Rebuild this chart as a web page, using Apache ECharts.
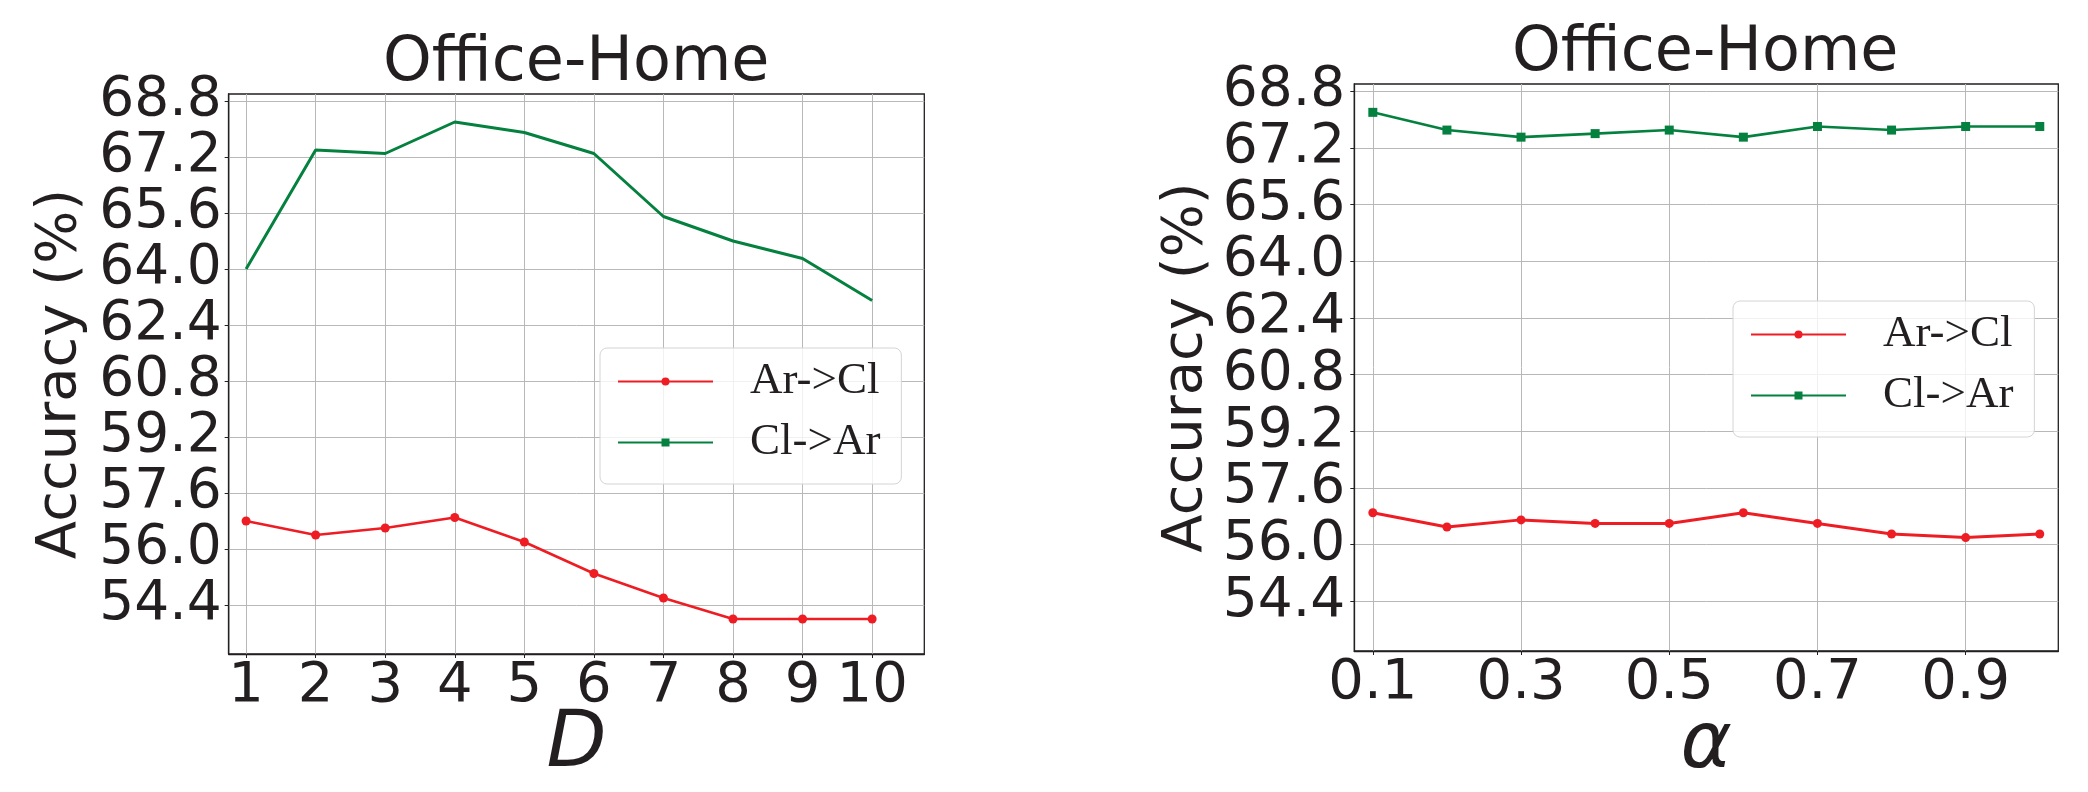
<!DOCTYPE html>
<html>
<head>
<meta charset="utf-8">
<script src="https://cdn.jsdelivr.net/npm/echarts@6/dist/echarts.min.js"></script>
<style>
html,body{margin:0;padding:0;background:#fff;}
#chart{width:2088px;height:792px;}
</style>
</head>
<body>
<div id="chart"></div>
<script>
// ---- data ----
const dValues = [1, 2, 3, 4, 5, 6, 7, 8, 9, 10];
const arClD = [56.8, 56.4, 56.6, 56.9, 56.2, 55.3, 54.6, 54.0, 54.0, 54.0];
const clArD = [64.0, 67.4, 67.3, 68.2, 67.9, 67.3, 65.5, 64.8, 64.3, 63.1];

const alphaValues = [0.1, 0.2, 0.3, 0.4, 0.5, 0.6, 0.7, 0.8, 0.9, 1.0];
const arClAlpha = [56.9, 56.5, 56.7, 56.6, 56.6, 56.9, 56.6, 56.3, 56.2, 56.3];
const clArAlpha = [68.2, 67.7, 67.5, 67.6, 67.7, 67.5, 67.8, 67.7, 67.8, 67.8];

const yTicks = [54.4, 56.0, 57.6, 59.2, 60.8, 62.4, 64.0, 65.6, 67.2, 68.8];
const dTicks = [1, 2, 3, 4, 5, 6, 7, 8, 9, 10];
const alphaTicks = [0.1, 0.3, 0.5, 0.7, 0.9];

const seriesNames = ['Ar->Cl', 'Cl->Ar'];
const chartTitle = 'Office-Home';
const yName = 'Accuracy (%)';

// ---- styles ----
const INK = '#231f20';
const RED = '#ee1d24';
const GREEN = '#05813f';
const GRIDC = '#b8b8b8';
const SANS = 'DejaVu Sans';
const SERIF = 'Liberation Serif';

function pairs(xs, ys) { return xs.map((x, i) => [x, ys[i]]); }

function xAxisCfg(idx, min, max, ticks, fmt, name, gap) {
  return {
    gridIndex: idx, type: 'value', min: min, max: max,
    axisLine: { show: true, lineStyle: { color: INK, width: 1.3 } },
    axisTick: { show: true, length: 4, inside: false, customValues: ticks, lineStyle: { color: INK, width: 1 } },
    axisLabel: { customValues: ticks, formatter: fmt, fontSize: 56, fontFamily: SANS, color: INK, margin: 4,
                 hideOverlap: false, showMinLabel: true, showMaxLabel: true },
    splitLine: { show: true, lineStyle: { color: GRIDC, width: 1 } },
    name: name, nameLocation: 'middle', nameGap: gap, nameMoveOverlap: false,
    nameTextStyle: { fontSize: 78, fontStyle: 'italic', fontFamily: SANS, color: INK }
  };
}
function yAxisCfg(idx, margin) {
  return {
    gridIndex: idx, type: 'value', min: 53, max: 69,
    axisLine: { show: true, lineStyle: { color: INK, width: 1.3 } },
    axisTick: { show: true, length: 4, customValues: yTicks, lineStyle: { color: INK, width: 1 } },
    axisLabel: { customValues: yTicks, formatter: v => Number(v).toFixed(1), fontSize: 55, fontFamily: SANS, color: INK, margin: margin,
                 hideOverlap: false, showMinLabel: true, showMaxLabel: true },
    splitLine: { show: true, lineStyle: { color: GRIDC, width: 1 } },
    name: yName, nameLocation: 'middle', nameGap: 140, nameRotate: 90, nameMoveOverlap: false,
    nameTextStyle: { fontSize: 56, fontFamily: SANS, color: INK }
  };
}
function legendCfg(left, top) {
  return {
    left: left, top: top, orient: 'vertical',
    data: seriesNames,
    itemWidth: 95, itemHeight: 10, itemGap: 16,
    padding: [11, 21, 19, 17],
    backgroundColor: 'rgba(255,255,255,0.8)',
    borderColor: '#d4d4d4', borderWidth: 1, borderRadius: 7,
    textStyle: { fontFamily: SERIF, fontSize: 45, lineHeight: 45, color: INK, padding: [0, 0, 0, 32] },
    selectedMode: false
  };
}

const option = {
  backgroundColor: '#fff',
  animation: false,
  title: [
    { text: chartTitle, left: 383, top: 33, padding: 0, textStyle: { fontFamily: SANS, fontSize: 62, fontWeight: 'normal', color: INK } },
    { text: chartTitle, left: 1512, top: 23, padding: 0, textStyle: { fontFamily: SANS, fontSize: 62, fontWeight: 'normal', color: INK } }
  ],
  grid: [
    { left: 228.7, top: 94, width: 695.6, height: 560, show: true, borderColor: INK, borderWidth: 1.3,
      containLabel: false, outerBoundsMode: 'none' },
    { left: 1354.3, top: 84, width: 704, height: 567, show: true, borderColor: INK, borderWidth: 1.3,
      containLabel: false, outerBoundsMode: 'none' }
  ],
  xAxis: [
    xAxisCfg(0, 0.75, 10.75, dTicks, v => String(Math.round(v)), 'D', 53),
    xAxisCfg(1, 0.075, 1.025, alphaTicks, v => Number(v).toFixed(1), 'α', 57)
  ],
  yAxis: [ yAxisCfg(0, 7), yAxisCfg(1, 9) ],
  legend: [ legendCfg(600, 348), legendCfg(1733, 301) ],
  series: [
    { name: seriesNames[0], type: 'line', xAxisIndex: 0, yAxisIndex: 0, data: pairs(dValues, arClD),
      symbol: 'circle', symbolSize: 9, showSymbol: true,
      lineStyle: { color: RED, width: 2.6 }, itemStyle: { color: RED } },
    { name: seriesNames[1], type: 'line', xAxisIndex: 0, yAxisIndex: 0, data: pairs(dValues, clArD),
      symbol: 'rect', symbolSize: 9, showSymbol: false,
      lineStyle: { color: GREEN, width: 3 }, itemStyle: { color: GREEN } },
    { name: seriesNames[0], type: 'line', xAxisIndex: 1, yAxisIndex: 1, data: pairs(alphaValues, arClAlpha),
      symbol: 'circle', symbolSize: 9, showSymbol: true,
      lineStyle: { color: RED, width: 3 }, itemStyle: { color: RED } },
    { name: seriesNames[1], type: 'line', xAxisIndex: 1, yAxisIndex: 1, data: pairs(alphaValues, clArAlpha),
      symbol: 'rect', symbolSize: 9, showSymbol: true,
      lineStyle: { color: GREEN, width: 2.6 }, itemStyle: { color: GREEN } }
  ]
};

const chart = echarts.init(document.getElementById('chart'), null, { renderer: 'canvas' });
chart.setOption(option);
</script>
</body>
</html>
